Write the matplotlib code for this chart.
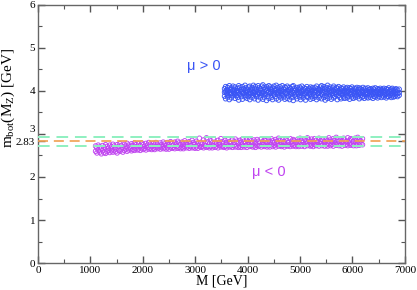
import matplotlib
matplotlib.use("Agg")
import matplotlib.pyplot as plt
from matplotlib.ticker import MultipleLocator

plt.rcParams.update({
    "font.family": "serif",
    "font.serif": ["Liberation Serif", "DejaVu Serif"],
    "mathtext.fontset": "custom",
    "mathtext.rm": "Liberation Serif",
    "mathtext.it": "Liberation Serif:italic",
})

# mu > 0 solutions (blue)
pos_x = [3560, 3580, 3605, 3620, 3650, 3670, 3690, 3720, 3740, 3760,
         3785, 3810, 3830, 3850, 3880, 3900, 3925, 3950, 3970, 3990,
         4015, 4040, 4060, 4085, 4110, 4130, 4150, 4175, 4200, 4220,
         4245, 4270, 4290, 4310, 4335, 4360, 4385, 4405, 4430, 4450,
         4475, 4500, 4520, 4545, 4570, 4590, 4615, 4640, 4660, 4685,
         4710, 4730, 4755, 4780, 4800, 4825, 4850, 4870, 4895, 4920,
         4940, 4965, 4990, 5010, 5035, 5060, 5080, 5105, 5130, 5150,
         5175, 5200, 5220, 5245, 5270, 5290, 5315, 5340, 5360, 5385,
         5410, 5430, 5455, 5480, 5500, 5525, 5550, 5570, 5595, 5620,
         5640, 5665, 5690, 5710, 5735, 5760, 5780, 5805, 5830, 5850,
         5875, 5900, 5920, 5945, 5970, 5990, 6015, 6040, 6060, 6085,
         6110, 6130, 6155, 6180, 6200, 6225, 6250, 6270, 6295, 6320,
         6340, 6365, 6390, 6410, 6435, 6460, 6480, 6505, 6530, 6550,
         6575, 6600, 6620, 6645, 6670, 6690, 6715, 6740, 6760, 6785,
         6810, 6830, 6860, 6890]
pos_y_hi = [4.05, 4.10, 4.02, 4.08, 4.12, 4.03, 4.07, 4.11, 4.04, 4.09,
            4.01, 4.06, 4.12, 4.08, 4.03, 4.10, 4.05, 4.13, 4.07, 4.02,
            4.09, 4.11, 4.04, 4.08, 4.13, 4.06, 4.10, 4.03, 4.12, 4.07,
            4.05, 4.11, 4.14, 4.08, 4.04, 4.10, 4.06, 4.12, 4.09, 4.03,
            4.07, 4.11, 4.05, 4.13, 4.08, 4.02, 4.10, 4.06, 4.12, 4.04,
            4.09, 4.07, 4.11, 4.03, 4.08, 4.05, 4.10, 4.12, 4.06, 4.02,
            4.08, 4.04, 4.09, 4.06, 4.11, 4.03, 4.07, 4.05, 4.10, 4.02,
            4.06, 4.09, 4.04, 4.08, 4.01, 4.07, 4.11, 4.05, 4.03, 4.09,
            4.12, 4.06, 4.10, 4.04, 4.08, 4.13, 4.05, 4.09, 4.02, 4.07,
            4.11, 4.04, 4.08, 4.06, 4.10, 4.03, 4.07, 4.05, 4.09, 4.02,
            4.06, 4.08, 4.03, 4.07, 4.05, 4.09, 4.02, 4.06, 4.04, 4.08,
            4.03, 4.07, 4.05, 4.02, 4.08, 4.04, 4.06, 4.01, 4.07, 4.03,
            4.05, 4.02, 4.06, 4.04, 4.07, 4.01, 4.05, 4.03, 4.06, 4.02,
            4.04, 4.06, 4.01, 4.05, 4.03, 4.07, 4.02, 4.04, 4.06, 4.01,
            4.03, 4.05, 4.02, 4.04]
pos_y_mid = [3.97, 3.99, 3.95, 4.00, 3.96, 3.98, 3.94, 4.01, 3.97, 3.95,
             3.99, 3.96, 4.00, 3.94, 3.98, 3.97, 3.95, 4.01, 3.96, 3.99,
             3.94, 3.98, 3.96, 4.00, 3.95, 3.97, 3.99, 3.93, 3.98, 3.96,
             4.01, 3.95, 3.97, 3.99, 3.94, 4.00, 3.96, 3.98, 3.95, 3.97,
             3.99, 3.94, 4.01, 3.96, 3.98, 3.95, 3.97, 4.00, 3.93, 3.99,
             3.96, 3.98, 3.94, 4.00, 3.97, 3.95, 3.99, 3.96, 4.01, 3.94,
             3.98, 3.96, 3.99, 3.95, 3.97, 4.00, 3.94, 3.98, 3.96, 3.99,
             3.95, 3.97, 4.00, 3.94, 3.98, 3.96, 3.99, 3.95, 3.97, 4.01,
             3.94, 3.98, 3.96, 3.99, 3.95, 3.97, 4.00, 3.96, 3.98, 3.94,
             3.99, 3.95, 3.97, 4.00, 3.96, 3.98, 3.94, 3.99, 3.95, 3.97,
             3.98, 3.96, 3.99, 3.94, 3.97, 4.00, 3.95, 3.98, 3.96, 3.99,
             3.95, 3.97, 3.94, 3.98, 3.96, 3.99, 3.95, 3.97, 3.93, 3.98,
             3.96, 3.99, 3.94, 3.97, 3.95, 3.98, 3.96, 3.94, 3.97, 3.99,
             3.95, 3.98, 3.96, 3.93, 3.97, 3.95, 3.98, 3.94, 3.96, 3.97,
             3.95, 3.98, 3.94, 3.96]
pos_y_lo = [3.88, 3.82, 3.93, 3.86, 3.80, 3.91, 3.84, 3.89, 3.95, 3.83,
            3.90, 3.85, 3.79, 3.92, 3.87, 3.81, 3.94, 3.86, 3.90, 3.83,
            3.88, 3.80, 3.93, 3.85, 3.89, 3.82, 3.91, 3.87, 3.79, 3.94,
            3.84, 3.90, 3.81, 3.86, 3.92, 3.78, 3.88, 3.83, 3.95, 3.85,
            3.80, 3.91, 3.87, 3.82, 3.93, 3.79, 3.89, 3.84, 3.90, 3.86,
            3.81, 3.94, 3.83, 3.88, 3.80, 3.92, 3.85, 3.78, 3.90, 3.87,
            3.82, 3.93, 3.86, 3.80, 3.89, 3.84, 3.91, 3.79, 3.88, 3.85,
            3.92, 3.81, 3.87, 3.83, 3.90, 3.86, 3.80, 3.94, 3.84, 3.89,
            3.82, 3.91, 3.85, 3.79, 3.88, 3.83, 3.93, 3.86, 3.81, 3.90,
            3.84, 3.87, 3.92, 3.80, 3.89, 3.85, 3.82, 3.91, 3.86, 3.83,
            3.90, 3.84, 3.88, 3.81, 3.93, 3.86, 3.83, 3.89, 3.85, 3.91,
            3.87, 3.82, 3.90, 3.85, 3.88, 3.83, 3.92, 3.86, 3.84, 3.89,
            3.85, 3.91, 3.83, 3.88, 3.86, 3.90, 3.84, 3.87, 3.92, 3.85,
            3.89, 3.86, 3.91, 3.84, 3.88, 3.87, 3.90, 3.85, 3.89, 3.86,
            3.88, 3.91, 3.87, 3.90]

# mu < 0 solutions (magenta)
neg_x = [1100, 1125, 1150, 1180, 1210, 1235, 1260, 1290, 1320, 1345,
         1370, 1400, 1430, 1455, 1480, 1510, 1540, 1565, 1590, 1620,
         1650, 1675, 1700, 1730, 1760, 1785, 1810, 1840, 1870, 1895,
         1920, 1950, 1980, 2005, 2030, 2060, 2090, 2115, 2140, 2170,
         2200, 2225, 2250, 2280, 2310, 2335, 2360, 2390, 2420, 2445,
         2470, 2500, 2530, 2555, 2580, 2610, 2640, 2665, 2690, 2720,
         2750, 2775, 2800, 2830, 2860, 2885, 2910, 2940, 2970, 2995,
         3020, 3050, 3080, 3105, 3130, 3160, 3190, 3215, 3240, 3270,
         3300, 3325, 3350, 3380, 3410, 3435, 3460, 3490, 3520, 3545,
         3570, 3600, 3630, 3655, 3680, 3710, 3740, 3765, 3790, 3820,
         3850, 3875, 3900, 3930, 3960, 3985, 4010, 4040, 4070, 4095,
         4120, 4150, 4180, 4205, 4230, 4260, 4290, 4315, 4340, 4370,
         4400, 4425, 4450, 4480, 4510, 4535, 4560, 4590, 4620, 4645,
         4670, 4700, 4730, 4755, 4780, 4810, 4840, 4865, 4890, 4920,
         4950, 4975, 5000, 5030, 5060, 5085, 5110, 5140, 5170, 5195,
         5220, 5250, 5280, 5305, 5330, 5360, 5390, 5415, 5440, 5470,
         5500, 5525, 5550, 5580, 5610, 5635, 5660, 5690, 5720, 5745,
         5770, 5800, 5830, 5855, 5880, 5910, 5940, 5965, 5990, 6020,
         6050, 6075, 6100, 6130, 6160, 6190]
neg_y_hi = [2.72, 2.68, 2.74, 2.70, 2.66, 2.73, 2.69, 2.75, 2.71, 2.67,
            2.74, 2.70, 2.76, 2.72, 2.68, 2.75, 2.71, 2.77, 2.73, 2.69,
            2.76, 2.72, 2.78, 2.74, 2.70, 2.77, 2.73, 2.79, 2.75, 2.71,
            2.77, 2.73, 2.79, 2.75, 2.71, 2.78, 2.74, 2.80, 2.76, 2.72,
            2.78, 2.74, 2.80, 2.76, 2.72, 2.79, 2.75, 2.81, 2.77, 2.73,
            2.80, 2.76, 2.82, 2.78, 2.74, 2.81, 2.77, 2.83, 2.79, 2.75,
            2.81, 2.77, 2.84, 2.79, 2.75, 2.82, 2.78, 2.85, 2.80, 2.76,
            2.83, 2.78, 2.90, 2.80, 2.76, 2.86, 2.79, 2.91, 2.81, 2.77,
            2.84, 2.79, 2.88, 2.81, 2.77, 2.85, 2.80, 2.89, 2.82, 2.78,
            2.85, 2.80, 2.87, 2.82, 2.78, 2.86, 2.81, 2.88, 2.83, 2.79,
            2.85, 2.81, 2.88, 2.83, 2.79, 2.86, 2.82, 2.89, 2.84, 2.80,
            2.86, 2.81, 2.87, 2.83, 2.79, 2.88, 2.82, 2.86, 2.84, 2.80,
            2.86, 2.82, 2.89, 2.84, 2.80, 2.87, 2.83, 2.90, 2.85, 2.81,
            2.87, 2.82, 2.88, 2.84, 2.80, 2.89, 2.83, 2.87, 2.85, 2.81,
            2.87, 2.83, 2.90, 2.85, 2.81, 2.88, 2.84, 2.91, 2.86, 2.82,
            2.88, 2.83, 2.89, 2.85, 2.81, 2.90, 2.84, 2.88, 2.86, 2.82,
            2.88, 2.84, 2.91, 2.86, 2.82, 2.89, 2.85, 2.92, 2.87, 2.83,
            2.89, 2.84, 2.90, 2.86, 2.82, 2.91, 2.85, 2.89, 2.87, 2.83,
            2.90, 2.85, 2.92, 2.87, 2.84, 2.89]
neg_y_lo = [2.60, 2.56, 2.62, 2.58, 2.54, 2.61, 2.57, 2.55, 2.59, 2.62,
            2.57, 2.61, 2.58, 2.63, 2.59, 2.56, 2.62, 2.60, 2.64, 2.58,
            2.62, 2.65, 2.60, 2.63, 2.66, 2.61, 2.64, 2.62, 2.67, 2.63,
            2.65, 2.62, 2.68, 2.64, 2.66, 2.63, 2.69, 2.65, 2.67, 2.64,
            2.67, 2.64, 2.69, 2.66, 2.68, 2.65, 2.70, 2.66, 2.68, 2.65,
            2.68, 2.65, 2.70, 2.67, 2.69, 2.66, 2.71, 2.67, 2.69, 2.66,
            2.69, 2.66, 2.71, 2.68, 2.70, 2.67, 2.72, 2.68, 2.70, 2.67,
            2.70, 2.67, 2.72, 2.69, 2.71, 2.68, 2.73, 2.69, 2.71, 2.68,
            2.71, 2.68, 2.73, 2.69, 2.72, 2.68, 2.74, 2.70, 2.72, 2.69,
            2.71, 2.68, 2.73, 2.70, 2.72, 2.69, 2.74, 2.70, 2.72, 2.69,
            2.72, 2.69, 2.74, 2.70, 2.73, 2.69, 2.75, 2.71, 2.73, 2.70,
            2.72, 2.69, 2.74, 2.71, 2.73, 2.70, 2.75, 2.71, 2.73, 2.70,
            2.73, 2.70, 2.75, 2.71, 2.74, 2.70, 2.76, 2.72, 2.74, 2.71,
            2.73, 2.70, 2.75, 2.72, 2.74, 2.71, 2.76, 2.72, 2.74, 2.71,
            2.74, 2.71, 2.76, 2.72, 2.75, 2.71, 2.77, 2.73, 2.75, 2.72,
            2.74, 2.71, 2.76, 2.73, 2.75, 2.72, 2.77, 2.73, 2.75, 2.72,
            2.75, 2.72, 2.77, 2.73, 2.76, 2.72, 2.78, 2.74, 2.76, 2.73,
            2.75, 2.72, 2.77, 2.74, 2.76, 2.73, 2.78, 2.74, 2.76, 2.73,
            2.76, 2.73, 2.78, 2.74, 2.77, 2.75]

# experimental band
mb_central = 2.83
mb_band = [2.73, 2.93]

blue = "#3a55f5"
magenta = "#c045f0"

fig = plt.figure(figsize=(4.17, 2.90), dpi=100)
ax = fig.add_axes([0.091, 0.093, 0.880, 0.890])

mk = dict(marker="o", s=11, facecolors="none", linewidths=0.65)
for ys in (pos_y_hi, pos_y_mid, pos_y_lo):
    ax.scatter(pos_x, ys, edgecolors=blue, zorder=2, **mk)
for ys in (neg_y_hi, neg_y_lo):
    ax.scatter(neg_x, ys, edgecolors=magenta, zorder=2, **mk)

for yb in mb_band:
    ax.axhline(yb, color="#8ef0c0", lw=1.4, ls=(0, (6, 3.5)), zorder=3)
ax.axhline(mb_central, color="#f0a050", lw=1.2, ls=(0, (6, 3.5)), zorder=3)

ax.text(2840, 4.58, "μ > 0", color=blue, fontsize=10.5,
        family="Liberation Sans", va="center")
ax.text(4080, 2.12, "μ < 0", color=magenta, fontsize=10.5,
        family="Liberation Sans", va="center")

ax.set_xlim(0, 7000)
ax.set_ylim(0, 6)
ax.xaxis.set_major_locator(MultipleLocator(1000))
ax.xaxis.set_minor_locator(MultipleLocator(500))
ax.set_yticks([0, 1, 2, 2.83, 3, 4, 5, 6])
ax.set_yticklabels(["0", "1", "2", "2.83", "3", "4", "5", "6"])
ax.yaxis.set_minor_locator(MultipleLocator(0.5))
ax.tick_params(which="both", direction="in", top=True, right=True,
               color="#555555", labelsize=8, pad=2)
ax.tick_params(which="major", length=5, width=1)
ax.tick_params(which="minor", length=3, width=0.8)
for sp in ax.spines.values():
    sp.set_color("#666666")
    sp.set_linewidth(1)

# nudge the "3" label up so it sits above "2.83" like the original
for lbl in ax.get_yticklabels():
    if lbl.get_text() == "3":
        lbl.set_verticalalignment("bottom")

ax.set_xlabel("M [GeV]", fontsize=10, labelpad=0)
ax.set_ylabel(r"m$_{\mathrm{bot}}$(M$_{\mathrm{Z}}$) [GeV]", fontsize=11)
ax.yaxis.set_label_coords(-0.058, 0.64)

fig.savefig("out.png", dpi=100)
